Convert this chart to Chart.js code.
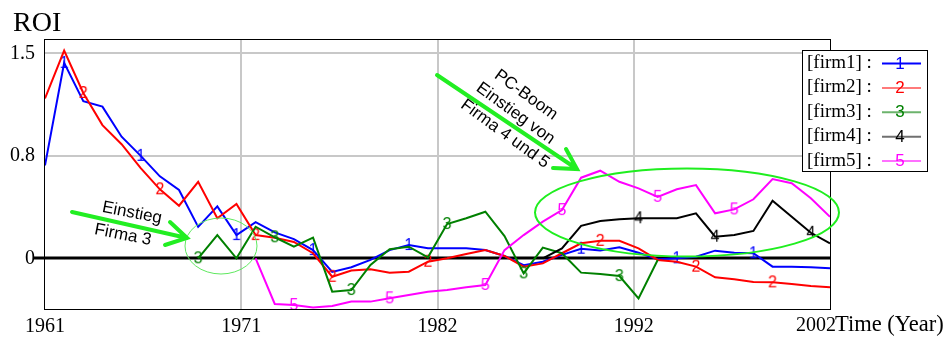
<!DOCTYPE html>
<html>
<head>
<meta charset="utf-8">
<script src="https://cdn.jsdelivr.net/npm/chart.js@4/dist/chart.umd.min.js"></script>
<style>
  html, body { margin: 0; padding: 0; background: #fff; }
  #c { display: block; }
</style>
</head>
<body>
<canvas id="c" width="952" height="338"></canvas>
<script>
// Simulation years
const years = [1961, 1962, 1963, 1964, 1965, 1966, 1967, 1968, 1969, 1970,
               1971, 1972, 1973, 1974, 1975, 1976, 1977, 1978, 1979, 1980,
               1981, 1982, 1983, 1984, 1985, 1986, 1987, 1988, 1989, 1990,
               1991, 1992, 1993, 1994, 1995, 1996, 1997, 1998, 1999, 2000,
               2001, 2002];

// ROI per firm (null = firm not in the market)
const firm1 = [0.68, 1.43, 1.15, 1.11, 0.89, 0.75, 0.60, 0.50, 0.23, 0.38,
               0.17, 0.265, 0.19, 0.14, 0.06, -0.10, -0.065, -0.012, 0.06, 0.097,
               0.073, 0.073, 0.073, 0.06, 0.017, -0.05, -0.025, 0.025, 0.07, 0.058,
               0.08, 0.041, -0.007, 0.0, 0.012, 0.056, 0.041, 0.037, -0.061, -0.061,
               -0.066, -0.073];
const firm2 = [1.17, 1.52, 1.21, 0.975, 0.835, 0.66, 0.505, 0.385, 0.56, 0.293,
               0.397, 0.17, 0.15, 0.12, 0.037, -0.135, -0.09, -0.08, -0.105, -0.098,
               -0.025, 0.0, 0.031, 0.06, 0.017, -0.061, -0.037, 0.037, 0.11, 0.128,
               0.128, 0.073, -0.012, -0.025, -0.061, -0.139, -0.154, -0.173, -0.176, -0.188,
               -0.203, -0.212];
const firm3 = [null, null, null, null, null, null, null, null, 0.0, 0.17,
               0.0, 0.231, 0.154, 0.085, 0.151, -0.244, -0.232, -0.049, 0.066, 0.085,
               0.007, 0.251, 0.293, 0.341, 0.163, -0.11, 0.078, 0.037, -0.105, -0.115,
               -0.13, -0.293, -0.012, null, null, null, null, null, null, null,
               null, null];
const firm4 = [null, null, null, null, null, null, null, null, null, null,
               null, null, null, null, null, null, null, null, null, null,
               null, null, null, null, null, null, 0.0, 0.073, 0.238, 0.273,
               0.285, 0.293, 0.293, 0.293, 0.329, 0.158, 0.17, 0.2, 0.421, 0.304,
               0.187, 0.11];
const firm5 = [null, null, null, null, null, null, null, null, null, null,
               null, 0.0, -0.334, -0.342, -0.36, -0.349, -0.317, -0.317, -0.293, -0.268,
               -0.244, -0.232, -0.212, -0.195, 0.06, 0.17, 0.268, 0.353, 0.59, 0.641,
               0.56, 0.512, 0.45, 0.505, 0.536, 0.329, 0.358, 0.432, 0.58, 0.549,
               0.439, 0.304];

// Years at which the firm number is printed on its line
const marks1 = [1962, 1966, 1971, 1975, 1980, 1989, 1994, 1998];
const marks2 = [1963, 1967, 1972, 1976, 1981, 1990, 1995, 1999];
const marks3 = [1969, 1973, 1977, 1982, 1986, 1991];
const marks4 = [1992, 1996, 2001];
const marks5 = [1974, 1979, 1984, 1988, 1993, 1997];

// Axis ticks (time axis split into four equal parts)
const xTickValues = [1961, 1971.25, 1981.5, 1991.75, 2002];
const xTickLabels = ['1961', '1971', '1982', '1992', ''];
const yTickValues = [0, 0.75, 1.5];
const yTickLabels = ['0', '0.8', '1.5'];

const seriesNames = ['[firm1] :', '[firm2] :', '[firm3] :', '[firm4] :', '[firm5] :'];

const SERIF = '"Liberation Serif", "Times New Roman", serif';
const SANS = '"Liberation Sans", Arial, sans-serif';

const lineColors = ['#0000ff', '#ff0000', '#008000', '#000000', '#ff00ff'];
const keyColors = ['#0000ff', '#ff7a7a', '#6cb36c', '#707070', '#ff70ff'];

function digitSprite(txt, color) {
  const c = document.createElement('canvas');
  c.width = 14; c.height = 18;
  const g = c.getContext('2d');
  g.font = '16px ' + SANS;
  g.fillStyle = color;
  g.textAlign = 'center';
  g.textBaseline = 'middle';
  g.fillText(txt, 7, 9.5);
  return c;
}

function makeSet(idx, values, marks) {
  const sprite = digitSprite(String(idx + 1), lineColors[idx]);
  return {
    label: seriesNames[idx],
    data: years.map((yr, i) => ({ x: yr, y: values[i] })),
    borderColor: lineColors[idx],
    backgroundColor: lineColors[idx],
    borderWidth: 2,
    tension: 0,
    fill: false,
    spanGaps: false,
    order: 4 - idx,
    pointStyle: years.map(yr => marks.includes(yr) ? sprite : 'circle'),
    pointRadius: years.map(yr => marks.includes(yr) ? 3 : 0),
    pointHoverRadius: 0,
    pointBorderWidth: 0
  };
}

function ellipse(ctx, cx, cy, rx, ry, rot) {
  ctx.beginPath();
  ctx.ellipse(cx, cy, rx, ry, rot, 0, Math.PI * 2);
  ctx.stroke();
}

function arrow(ctx, x0, y0, x1, y1, w1, w2) {
  ctx.beginPath();
  ctx.moveTo(x0, y0); ctx.lineTo(x1, y1);
  ctx.moveTo(w1[0], w1[1]); ctx.lineTo(x1, y1); ctx.lineTo(w2[0], w2[1]);
  ctx.stroke();
}

function rotatedLines(ctx, lines, angleDeg) {
  ctx.save();
  ctx.font = '17px ' + SANS;
  ctx.fillStyle = '#000';
  ctx.textAlign = 'center';
  ctx.textBaseline = 'middle';
  lines.forEach(([t, x, y]) => {
    ctx.save();
    ctx.translate(x, y);
    ctx.rotate(angleDeg * Math.PI / 180);
    ctx.fillText(t, 0, 0);
    ctx.restore();
  });
  ctx.restore();
}

const decorations = {
  id: 'decorations',
  beforeDatasetsDraw(chart) {
    const ctx = chart.ctx, a = chart.chartArea;
    const y0 = Math.round(chart.scales.y.getPixelForValue(0));
    ctx.save();
    ctx.strokeStyle = '#000';
    ctx.lineWidth = 3;
    ctx.beginPath();
    ctx.moveTo(33, y0);
    ctx.lineTo(a.right, y0);
    ctx.stroke();
    ctx.restore();
  },
  afterDatasetsDraw(chart) {
    const ctx = chart.ctx, a = chart.chartArea;
    ctx.save();
    // plot frame
    ctx.strokeStyle = '#000';
    ctx.lineWidth = 1;
    ctx.strokeRect(Math.round(a.left) - 0.5, Math.round(a.top) + 0.5,
                   Math.round(a.right - a.left) + 1, Math.round(a.bottom - a.top));

    // axis titles
    ctx.fillStyle = '#000';
    ctx.font = '28px ' + SERIF;
    ctx.textAlign = 'left';
    ctx.textBaseline = 'alphabetic';
    ctx.fillText('ROI', 13, 31);
    ctx.font = '20px ' + SERIF;
    ctx.fillText('2002', 796, 331);
    ctx.font = '22.5px ' + SERIF;
    ctx.fillText('Time (Year)', 835, 331);

    // key box
    const bx = 802.5, by = 50.5, bw = 125, bh = 121;
    ctx.fillStyle = '#fff';
    ctx.fillRect(bx, by, bw, bh);
    ctx.strokeStyle = '#000';
    ctx.strokeRect(bx, by, bw, bh);
    seriesNames.forEach((name, i) => {
      const ry = 63 + i * 24.4;
      ctx.fillStyle = '#000';
      ctx.font = '19px ' + SERIF;
      ctx.textAlign = 'left';
      ctx.textBaseline = 'middle';
      ctx.fillText(name, 807, ry);
      ctx.strokeStyle = keyColors[i];
      ctx.lineWidth = 2;
      ctx.beginPath();
      ctx.moveTo(882, ry + 0.5);
      ctx.lineTo(921, ry + 0.5);
      ctx.stroke();
      ctx.fillStyle = lineColors[i];
      ctx.font = '17px ' + SANS;
      ctx.textAlign = 'center';
      ctx.fillText(String(i + 1), 900, ry + 1);
    });

    // highlight rings
    ctx.strokeStyle = '#5fe85f';
    ctx.lineWidth = 1;
    ellipse(ctx, 221, 246, 36, 28, 0);
    ctx.strokeStyle = '#1fee1f';
    ctx.lineWidth = 2;
    ellipse(ctx, 687, 212.5, 152, 44, 0.0);

    // arrows
    ctx.strokeStyle = '#22ee22';
    ctx.lineWidth = 4;
    ctx.lineCap = 'round';
    arrow(ctx, 72, 212, 187, 238, [170, 222], [165, 245]);
    arrow(ctx, 437, 75, 577, 169, [566, 149], [553, 168]);
    ctx.restore();

    rotatedLines(ctx, [['Einstieg', 132, 213], ['Firma 3', 123, 235]], 11);
    rotatedLines(ctx, [['PC-Boom', 526, 95], ['Einstieg von', 515.5, 113.5], ['Firma 4 und 5', 505, 134]], 36);
  }
};

new Chart(document.getElementById('c'), {
  type: 'line',
  data: {
    datasets: [
      makeSet(0, firm1, marks1),
      makeSet(1, firm2, marks2),
      makeSet(2, firm3, marks3),
      makeSet(3, firm4, marks4),
      makeSet(4, firm5, marks5)
    ]
  },
  options: {
    responsive: false,
    animation: false,
    devicePixelRatio: 1,
    layout: { padding: { left: 0, right: 122, top: 39, bottom: 0 } },
    plugins: { legend: { display: false }, tooltip: { enabled: false } },
    scales: {
      x: {
        type: 'linear',
        min: 1961, max: 2002,
        afterBuildTicks(s) { s.ticks = xTickValues.map(v => ({ value: v })); },
        afterFit(s) { s.height = 29; },
        border: { display: false },
        grid: {
          drawTicks: false,
          lineWidth: 2,
          color: c => (c.tick && (c.tick.value === 1961 || c.tick.value === 2002)) ? 'rgba(0,0,0,0)' : '#c8c8c8'
        },
        ticks: {
          autoSkip: false, maxRotation: 0, padding: 6,
          color: '#000',
          font: { family: SERIF, size: 20 },
          callback: (v, i) => xTickLabels[i]
        }
      },
      y: {
        min: -0.371, max: 1.605,
        afterBuildTicks(s) { s.ticks = yTickValues.map(v => ({ value: v })); },
        afterFit(s) { s.width = 45; },
        border: { display: false },
        grid: {
          drawTicks: false,
          lineWidth: 2,
          color: c => (c.tick && c.tick.value === 0) ? 'rgba(0,0,0,0)' : '#c8c8c8'
        },
        ticks: {
          padding: 10,
          color: '#000',
          font: { family: SERIF, size: 20 },
          callback: (v, i) => yTickLabels[i]
        }
      }
    }
  },
  plugins: [decorations]
});
</script>
</body>
</html>
